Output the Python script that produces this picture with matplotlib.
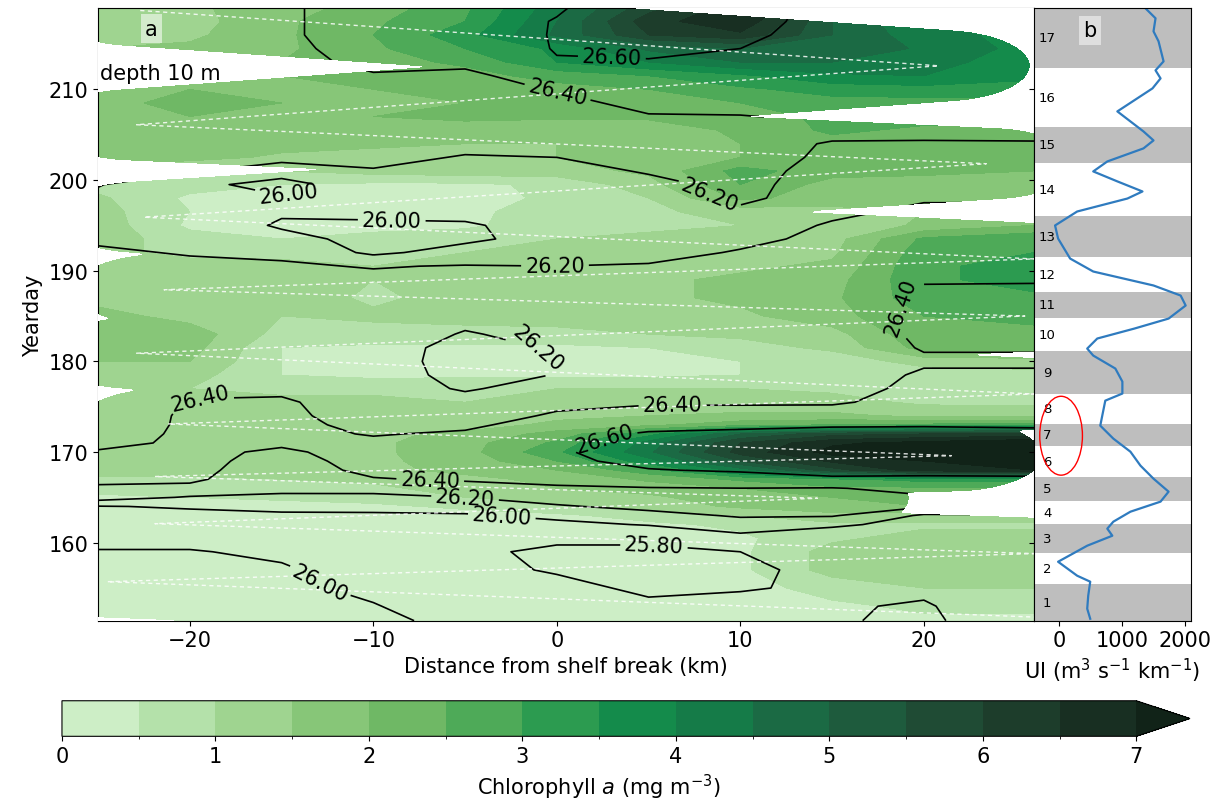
import numpy as np
import matplotlib
matplotlib.use('Agg')
import matplotlib.pyplot as plt
from matplotlib.colors import ListedColormap, BoundaryNorm
from matplotlib.patches import Ellipse

# ---------------- data ----------------
distance_km = [-25, -20, -15, -10, -5, 0, 5, 10, 15, 20, 26]
grid_days = [151.4, 153, 155, 157, 159, 160.5, 162, 163, 164, 165, 166, 167, 168, 169, 170,
             171, 172, 173, 174, 175.5, 177, 178.5, 180, 181.5, 183, 185, 187, 189, 190.5,
             192, 193.5, 195, 196.5, 198, 199.5, 201, 202.5, 204, 205.5, 207, 208.5, 210,
             211.5, 213, 214.5, 216, 217.5, 219]

# chlorophyll a at 10 m (mg m-3), one row per grid day, one column per distance
chl = [
    [0.3, 0.3, 0.3, 0.3, 0.3, 0.3, 0.3, 0.3, 0.3, 0.4, 0.4],
    [0.3, 0.3, 0.3, 0.3, 0.3, 0.3, 0.3, 0.3, 0.4, 0.6, 0.6],
    [0.3, 0.3, 0.3, 0.3, 0.3, 0.3, 0.3, 0.3, 0.7, 1.0, 1.0],
    [0.3, 0.3, 0.3, 0.3, 0.3, 0.3, 0.3, 0.4, 1.2, 1.3, 1.3],
    [0.3, 0.3, 0.3, 0.3, 0.3, 0.3, 0.3, 0.4, 1.2, 1.3, 1.3],
    [0.3, 0.3, 0.3, 0.3, 0.3, 0.3, 0.3, 0.4, 0.9, 1.2, 1.2],
    [0.3, 0.3, 0.3, 0.3, 0.3, 0.3, 0.4, 0.6, 0.9, 0.9, 0.9],
    [0.3, 0.3, 0.3, 0.3, 0.3, 0.4, 0.7, 1.0, 1.3, 1.3, 1.3],
    [0.3, 0.3, 0.3, 0.4, 0.6, 0.9, 1.2, 1.6, 1.9, 2.0, 2.0],
    [0.4, 0.5, 0.6, 0.7, 1.0, 1.2, 1.4, 1.8, 2.0, 2.2, 2.2],
    [0.7, 0.7, 0.8, 0.9, 1.2, 1.5, 1.7, 2.0, 2.4, 2.4, 2.4],
    [0.9, 0.9, 1.0, 1.1, 1.4, 1.6, 2.1, 2.6, 2.9, 3.2, 3.2],
    [1.2, 1.2, 1.2, 1.4, 1.6, 2.0, 2.8, 4.2, 5.8, 6.8, 7.0],
    [1.3, 1.3, 1.3, 1.4, 1.7, 2.5, 3.8, 5.5, 6.6, 7.0, 7.2],
    [1.3, 1.3, 1.3, 1.4, 1.8, 2.9, 4.4, 6.2, 7.2, 7.5, 7.5],
    [1.3, 1.3, 1.3, 1.4, 1.8, 2.6, 4.2, 6.0, 6.9, 7.2, 7.5],
    [1.3, 1.3, 1.3, 1.4, 1.6, 2.2, 3.3, 5.0, 5.8, 6.0, 6.2],
    [1.3, 1.3, 1.3, 1.3, 1.3, 1.6, 1.9, 2.3, 2.5, 2.6, 2.8],
    [1.3, 1.3, 1.3, 1.3, 1.3, 1.4, 1.5, 1.6, 1.6, 1.4, 1.3],
    [1.3, 1.3, 1.2, 1.2, 1.0, 1.2, 1.3, 1.2, 1.2, 0.9, 0.9],
    [1.2, 1.0, 0.8, 0.8, 0.9, 1.0, 1.0, 1.0, 0.9, 0.8, 0.8],
    [1.3, 1.2, 0.5, 0.4, 0.4, 0.4, 0.4, 0.5, 0.6, 0.7, 0.8],
    [1.5, 1.5, 0.5, 0.4, 0.4, 0.4, 0.4, 0.5, 0.7, 1.2, 1.3],
    [1.8, 1.7, 0.5, 0.4, 0.4, 0.4, 0.5, 0.8, 1.1, 2.2, 2.2],
    [1.8, 1.8, 0.8, 0.8, 0.8, 0.8, 1.0, 1.1, 1.3, 2.4, 2.4],
    [1.7, 1.3, 1.0, 1.1, 1.2, 1.3, 1.3, 1.4, 1.8, 2.5, 2.6],
    [1.3, 1.3, 1.3, 0.9, 1.2, 1.3, 1.4, 1.6, 1.9, 2.8, 2.9],
    [1.3, 1.3, 1.3, 1.0, 1.2, 1.3, 1.4, 1.6, 1.8, 2.9, 3.2],
    [1.3, 1.3, 1.2, 1.0, 1.2, 1.3, 1.3, 1.4, 1.6, 2.9, 3.2],
    [1.2, 0.8, 0.8, 0.9, 1.0, 1.1, 1.2, 1.3, 1.4, 2.8, 3.0],
    [1.3, 0.7, 0.5, 0.7, 0.8, 1.0, 1.1, 1.1, 1.3, 2.6, 2.9],
    [1.3, 0.4, 0.3, 0.3, 0.4, 0.8, 0.9, 1.0, 1.1, 1.6, 2.0],
    [1.2, 0.5, 0.3, 0.3, 0.4, 0.7, 0.9, 1.2, 1.3, 1.5, 1.8],
    [1.1, 0.4, 0.3, 0.3, 0.3, 0.6, 1.0, 2.1, 1.8, 1.8, 1.8],
    [0.8, 0.7, 0.5, 0.4, 0.4, 0.6, 1.3, 2.5, 1.8, 1.8, 1.8],
    [1.0, 0.9, 1.0, 1.2, 1.3, 1.3, 1.6, 2.7, 2.2, 2.1, 2.0],
    [2.0, 1.7, 1.4, 1.3, 1.4, 1.5, 1.6, 2.0, 2.4, 2.3, 2.2],
    [2.0, 1.8, 1.7, 1.6, 1.5, 1.5, 1.6, 2.0, 2.3, 2.3, 2.3],
    [1.7, 2.0, 1.8, 1.7, 1.6, 1.6, 1.7, 2.1, 2.6, 2.4, 2.3],
    [1.8, 2.0, 2.0, 2.0, 2.2, 2.1, 2.1, 2.3, 2.6, 2.7, 2.7],
    [1.9, 2.1, 2.0, 2.0, 2.0, 2.1, 2.3, 2.5, 2.8, 2.8, 2.8],
    [1.9, 2.0, 1.9, 2.0, 2.1, 2.3, 2.5, 2.9, 3.2, 3.3, 3.3],
    [1.8, 1.9, 2.0, 2.2, 2.3, 2.7, 3.0, 3.4, 3.9, 4.0, 3.6],
    [1.6, 1.7, 2.0, 2.3, 2.6, 3.5, 4.0, 4.5, 4.5, 4.2, 3.7],
    [1.5, 1.6, 1.9, 2.4, 3.0, 3.6, 4.6, 5.0, 5.0, 4.4, 3.8],
    [1.4, 1.4, 1.9, 2.5, 3.3, 4.6, 6.0, 6.4, 5.0, 4.2, 3.8],
    [1.3, 1.3, 1.9, 2.4, 3.0, 4.5, 6.3, 6.9, 5.0, 4.0, 3.8],
    [1.3, 1.4, 1.8, 2.2, 2.9, 4.3, 5.8, 6.8, 6.0, 4.8, 4.0],
]

# potential density anomaly (kg m-3) on the same grid
sigma = [
    [26.05, 26.04, 26.06, 26.04, 25.95, 25.88, 25.84, 25.86, 25.805, 25.79, 25.84],
    [26.05, 26.04, 26.05, 26.01, 25.90, 25.86, 25.82, 25.84, 25.805, 25.795, 25.84],
    [26.05, 26.04, 26.04, 25.96, 25.87, 25.83, 25.78, 25.79, 25.82, 25.81, 25.85],
    [26.04, 26.03, 26.02, 25.92, 25.83, 25.79, 25.74, 25.77, 25.84, 25.84, 25.86],
    [26.01, 26.01, 25.97, 25.90, 25.82, 25.78, 25.76, 25.80, 25.87, 25.88, 25.90],
    [25.95, 25.95, 25.93, 25.90, 25.88, 25.82, 25.84, 25.93, 25.92, 25.93, 25.95],
    [25.93, 25.93, 25.93, 25.93, 25.92, 25.96, 26.01, 26.12, 26.02, 25.96, 25.96],
    [25.95, 25.95, 25.97, 25.97, 25.98, 26.04, 26.14, 26.22, 26.22, 25.97, 25.97],
    [25.99, 26.02, 26.05, 26.06, 26.08, 26.18, 26.25, 26.28, 26.30, 26.22, 26.22],
    [26.30, 26.18, 26.17, 26.15, 26.20, 26.28, 26.33, 26.33, 26.35, 26.38, 26.38],
    [26.38, 26.36, 26.24, 26.27, 26.33, 26.37, 26.39, 26.398, 26.39, 26.45, 26.45],
    [26.43, 26.43, 26.28, 26.39, 26.42, 26.46, 26.50, 26.52, 26.57, 26.55, 26.56],
    [26.45, 26.44, 26.32, 26.44, 26.46, 26.52, 26.59, 26.62, 26.66, 26.68, 26.68],
    [26.44, 26.44, 26.35, 26.45, 26.48, 26.56, 26.65, 26.70, 26.72, 26.75, 26.75],
    [26.41, 26.43, 26.38, 26.45, 26.48, 26.58, 26.68, 26.72, 26.74, 26.77, 26.77],
    [26.37, 26.42, 26.42, 26.43, 26.46, 26.57, 26.67, 26.70, 26.72, 26.75, 26.75],
    [26.35, 26.42, 26.44, 26.39, 26.42, 26.53, 26.62, 26.64, 26.66, 26.68, 26.66],
    [26.33, 26.42, 26.44, 26.36, 26.37, 26.47, 26.54, 26.56, 26.58, 26.58, 26.57],
    [26.32, 26.42, 26.43, 26.34, 26.33, 26.42, 26.47, 26.47, 26.48, 26.50, 26.50],
    [26.30, 26.41, 26.42, 26.32, 26.27, 26.36, 26.38, 26.38, 26.38, 26.46, 26.46],
    [26.30, 26.37, 26.37, 26.30, 26.18, 26.28, 26.34, 26.34, 26.34, 26.44, 26.44],
    [26.30, 26.33, 26.33, 26.29, 26.14, 26.205, 26.32, 26.33, 26.32, 26.42, 26.42],
    [26.30, 26.30, 26.30, 26.28, 26.13, 26.21, 26.32, 26.33, 26.31, 26.38, 26.38],
    [26.30, 26.30, 26.30, 26.28, 26.14, 26.215, 26.32, 26.33, 26.31, 26.41, 26.41],
    [26.30, 26.30, 26.30, 26.28, 26.19, 26.24, 26.31, 26.32, 26.30, 26.43, 26.44],
    [26.30, 26.30, 26.30, 26.27, 26.24, 26.27, 26.30, 26.31, 26.30, 26.44, 26.45],
    [26.28, 26.28, 26.28, 26.26, 26.26, 26.27, 26.28, 26.29, 26.29, 26.43, 26.44],
    [26.26, 26.26, 26.25, 26.24, 26.24, 26.24, 26.25, 26.27, 26.28, 26.39, 26.39],
    [26.24, 26.23, 26.22, 26.19, 26.21, 26.20, 26.21, 26.24, 26.27, 26.35, 26.34],
    [26.22, 26.19, 26.17, 25.96, 26.08, 26.13, 26.16, 26.21, 26.25, 26.30, 26.30],
    [26.18, 26.14, 26.05, 25.95, 25.96, 26.08, 26.13, 26.17, 26.23, 26.27, 26.27],
    [26.14, 26.11, 25.98, 25.98, 25.98, 26.07, 26.13, 26.15, 26.21, 26.25, 26.25],
    [26.14, 26.10, 26.02, 26.03, 26.05, 26.09, 26.14, 26.18, 26.18, 26.22, 26.22],
    [26.16, 26.10, 26.02, 26.08, 26.10, 26.12, 26.15, 26.22, 26.15, 26.19, 26.19],
    [26.21, 26.06, 25.92, 26.13, 26.13, 26.14, 26.17, 26.23, 26.15, 26.16, 26.17],
    [26.24, 26.22, 26.10, 26.19, 26.16, 26.16, 26.21, 26.24, 26.16, 26.15, 26.17],
    [26.27, 26.27, 26.26, 26.24, 26.19, 26.20, 26.26, 26.27, 26.17, 26.16, 26.17],
    [26.30, 26.30, 26.30, 26.28, 26.24, 26.25, 26.30, 26.30, 26.18, 26.18, 26.18],
    [26.30, 26.30, 26.32, 26.30, 26.28, 26.29, 26.34, 26.34, 26.28, 26.26, 26.28],
    [26.31, 26.31, 26.33, 26.31, 26.30, 26.32, 26.39, 26.395, 26.42, 26.41, 26.41],
    [26.31, 26.31, 26.33, 26.32, 26.32, 26.36, 26.44, 26.44, 26.45, 26.44, 26.44],
    [26.32, 26.32, 26.34, 26.33, 26.34, 26.41, 26.48, 26.48, 26.48, 26.47, 26.47],
    [26.32, 26.32, 26.35, 26.39, 26.37, 26.47, 26.53, 26.52, 26.50, 26.50, 26.50],
    [26.32, 26.32, 26.36, 26.43, 26.43, 26.59, 26.59, 26.56, 26.52, 26.52, 26.52],
    [26.33, 26.33, 26.37, 26.45, 26.48, 26.61, 26.63, 26.60, 26.54, 26.54, 26.53],
    [26.33, 26.33, 26.38, 26.46, 26.52, 26.61, 26.66, 26.62, 26.56, 26.55, 26.54],
    [26.33, 26.33, 26.38, 26.46, 26.55, 26.605, 26.67, 26.63, 26.57, 26.55, 26.54],
    [26.33, 26.33, 26.38, 26.46, 26.56, 26.59, 26.67, 26.64, 26.57, 26.55, 26.54],
]
sigma_levels = [25.8, 26.0, 26.2, 26.4, 26.6]

# ship track (turning points of the transects)
track_km = [-22.7, 20.8, -22.9, 23.4, -22.5, 26.0, -21.4, 25.5, -22.9, 26.0,
            -21.2, 21.5, -21.9, 14.2, -21.9, 26.0, -24.5, 26.0]
track_day = [218.7, 212.6, 206.1, 201.8, 195.9, 191.3, 187.9, 185.0, 180.9, 176.4,
             173.1, 169.6, 167.3, 164.9, 162.1, 158.8, 155.7, 151.8]
cover_km = 5.0     # along-shelf reach of the gridding around the track
cover_days = 4.0   # time reach of the gridding around the track

# upwelling index, panel b
ui_day = [218.94, 217.84, 216.40, 215.30, 213.09, 212.10, 211.21, 210.11, 207.57, 205.36,
          204.37, 203.49, 202.05, 200.95, 199.85, 198.74, 197.96, 196.53, 194.99, 193.55,
          191.34, 189.91, 188.37, 187.26, 186.16, 184.72, 183.62, 182.52, 181.41, 180.64,
          179.21, 177.77, 176.45, 175.67, 174.02, 172.91, 171.48, 170.04, 168.50, 167.06,
          165.63, 164.53, 163.42, 162.32, 161.55, 160.77, 159.67, 157.90, 156.36, 155.70,
          154.15, 152.72, 151.61]
ui_value = [1376, 1536, 1504, 1584, 1664, 1536, 1616, 1488, 928, 1344,
            1504, 1344, 768, 544, 928, 1328, 1088, 288, -64, -16,
            176, 544, 1504, 1936, 2016, 1744, 1200, 608, 448, 544,
            896, 1008, 1008, 736, 688, 656, 864, 1136, 1296, 1504,
            1744, 1616, 1136, 864, 768, 848, 448, -16, 288, 496,
            464, 448, 496]
period_edges = [151.4, 155.4, 158.9, 162.1, 164.6, 167.3, 170.7, 173.1, 176.4, 181.1,
                184.8, 187.7, 191.5, 196.0, 201.9, 205.9, 212.4, 218.94]
period_names = [str(i) for i in range(1, 18)]

chl_levels = np.arange(0, 7.5, 0.5)
chl_colors = ['#cdeec6', '#b4e1aa', '#9fd490', '#87c678', '#6fb865', '#4eaa58', '#2c9b50',
              '#148b4b', '#157b48', '#1b6a44', '#1e5b3d', '#1f4b34', '#1d3d2b', '#182f22']
chl_over = '#112318'

# ---------------- figure ----------------
fig = plt.figure(figsize=(12.15, 8.03), dpi=100)
ax = fig.add_axes([0.0807, 0.2258, 0.7703, 0.7626])
ax2 = fig.add_axes([0.8510, 0.2258, 0.1292, 0.7626], sharey=ax)
cax = fig.add_axes([0.0510, 0.0818, 0.9284, 0.0443])

X, Y = np.meshgrid(distance_km, grid_days)
cmap = ListedColormap(chl_colors)
cmap.set_over(chl_over)
norm = BoundaryNorm(chl_levels, cmap.N)
cf = ax.contourf(X, Y, np.array(chl), levels=chl_levels, cmap=cmap, norm=norm,
                 extend='max', zorder=1)

cs = ax.contour(X, Y, np.array(sigma), levels=sigma_levels, colors='k',
                linewidths=1.2, zorder=2)

# mask where the gridded section is too far from the ship track
xf = np.linspace(-25, 26, 420)
yf = np.linspace(151.4, 219, 520)
XF, YF = np.meshgrid(xf, yf)
dist = np.full(XF.shape, np.inf)
for i in range(len(track_km) - 1):
    ax0, ay0 = track_km[i] / cover_km, track_day[i] / cover_days
    bx0, by0 = track_km[i + 1] / cover_km, track_day[i + 1] / cover_days
    px, py = XF / cover_km, YF / cover_days
    vx, vy = bx0 - ax0, by0 - ay0
    t = np.clip(((px - ax0) * vx + (py - ay0) * vy) / (vx * vx + vy * vy), 0, 1)
    dist = np.minimum(dist, np.hypot(px - (ax0 + t * vx), py - (ay0 + t * vy)))
ax.contourf(XF, YF, dist, levels=[1.0, 1e9], colors=['white'], zorder=3)

ax.plot(track_km, track_day, color='white', lw=1.0, ls=(0, (3, 2.5)), alpha=0.85, zorder=4)

label_pos = [(3.0, 213.6), (-0.1, 208.5), (-14.7, 198.9), (-9.0, 195.2), (8.3, 198.4),
             (-0.1, 190.6), (-0.7, 182.5), (19.0, 185.8), (-19.4, 172.6), (6.3, 175.2),
             (2.6, 171.2), (-6.9, 166.8), (-5.0, 165.0), (-3.0, 162.9), (5.3, 159.9),
             (-12.8, 156.0)]
lbls = ax.clabel(cs, fmt='%.2f', fontsize=15, manual=label_pos, inline=True, inline_spacing=4)
for t in lbls:
    t.set_zorder(6)

ax.set_xlim(-25, 26)
ax.set_ylim(151.4, 218.94)
ax.set_xticks([-20, -10, 0, 10, 20])
ax.set_yticks([160, 170, 180, 190, 200, 210])
ax.tick_params(labelsize=15)
ax.set_xlabel('Distance from shelf break (km)', fontsize=15)
ax.set_ylabel('Yearday', fontsize=15)
ax.text(-22.1, 216.7, 'a', fontsize=15, ha='center', va='center', zorder=7,
        bbox=dict(facecolor='white', alpha=0.55, edgecolor='none', pad=3))
ax.text(-24.9, 211.8, 'depth 10 m', fontsize=15, ha='left', va='center', zorder=7)

# ---- panel b ----
for i in range(len(period_edges) - 1):
    if i % 2 == 0:
        ax2.axhspan(period_edges[i], period_edges[i + 1], color='#bebebe', lw=0, zorder=0)
    ax2.text(-190, (period_edges[i] + period_edges[i + 1]) / 2, period_names[i],
             fontsize=9.5, ha='center', va='center', zorder=3)
ax2.plot(ui_value, ui_day, color='#2f7bbf', lw=1.6, zorder=2)
ax2.set_xlim(-400, 2100)
ax2.set_xticks([0, 1000, 2000])
ax2.tick_params(labelsize=15, labelleft=False)
ax2.set_xlabel('UI (m$^3$ s$^{-1}$ km$^{-1}$)', fontsize=15)
ax2.text(496, 216.5, 'b', fontsize=15, ha='center', va='center', zorder=4,
         bbox=dict(facecolor='white', alpha=0.5, edgecolor='none', pad=3))
ax2.add_patch(Ellipse((32, 171.8), 680, 8.7, fill=False, edgecolor='red', lw=1.0,
                      zorder=5, clip_on=False))

cb = fig.colorbar(cf, cax=cax, orientation='horizontal', ticks=range(8))
cb.ax.tick_params(labelsize=15)
cb.set_label('Chlorophyll $a$ (mg m$^{-3}$)', fontsize=15)

fig.savefig('out.png', dpi=100)
